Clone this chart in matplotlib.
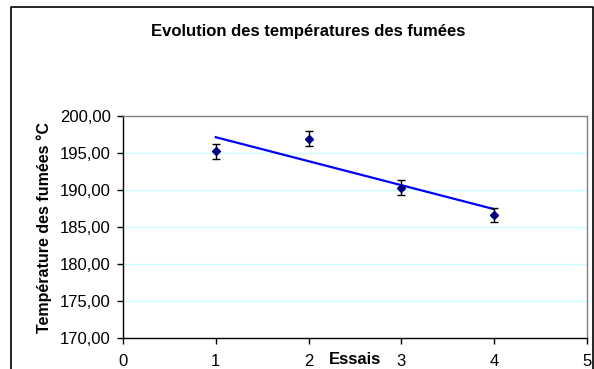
import numpy as np
import matplotlib
matplotlib.use('Agg')
import matplotlib.pyplot as plt
from matplotlib.ticker import FuncFormatter
from matplotlib.lines import Line2D

plt.rcParams['font.family'] = ['Liberation Sans', 'DejaVu Sans']

# Données
essais = [1, 2, 3, 4]
temperatures = [195.22, 196.93, 190.32, 186.62]
erreurs = [1.0, 1.0, 1.0, 1.0]

fig = plt.figure(figsize=(5.94, 3.69), dpi=100)
ax = fig.add_axes([0.2071, 0.084, 0.7811, 0.6016])

# Quadrillage horizontal cyan clair
ax.set_axisbelow(True)
ax.yaxis.grid(True, color='#ccffff', linewidth=1)

# Points avec barres d'erreur
ax.errorbar(essais, temperatures, yerr=erreurs, fmt='D', color='#000080',
            markersize=4.5, ecolor='black', elinewidth=1, capsize=2.8, capthick=1,
            zorder=3)

# Courbe de tendance linéaire
pente, origine = np.polyfit(essais, temperatures, 1)
x_tend = np.array([essais[0], essais[-1]])
ax.plot(x_tend, pente * x_tend + origine, color='#0000ff', linewidth=1.6, zorder=2)

ax.set_xlim(0, 5)
ax.set_ylim(170, 200)
ax.set_xticks(range(0, 6))
ax.set_yticks(np.arange(170, 201, 5))
ax.yaxis.set_major_formatter(FuncFormatter(lambda v, p: f"{v:.2f}".replace('.', ',')))

ax.tick_params(axis='both', labelsize=12, length=4, width=1, colors='black')
ax.tick_params(axis='x', pad=7.5)
ax.tick_params(axis='y', pad=5)

for s in ['left', 'bottom']:
    ax.spines[s].set_color('black')
    ax.spines[s].set_linewidth(1)
for s in ['top', 'right']:
    ax.spines[s].set_color('#808080')
    ax.spines[s].set_linewidth(1)

ax.set_xlabel('Essais', fontsize=12, fontweight='bold')
ax.xaxis.set_label_coords(0.499, -0.064)
ax.set_ylabel('Température des fumées °C', fontsize=11.5, fontweight='bold')
ax.yaxis.set_label_coords(-0.153, 0.5)

fig.text(0.518, 0.915, 'Evolution des températures des fumées', ha='center',
         va='center', fontsize=12, fontweight='bold')

# Cadre extérieur du graphique
x0, x1, y0 = 10.5 / 594, 592.5 / 594, 1 - 6.5 / 369
fig.add_artist(Line2D([x0, x0, x1, x1], [0, y0, y0, 0], color='black', linewidth=1.2))

fig.savefig('out.png', dpi=100)
